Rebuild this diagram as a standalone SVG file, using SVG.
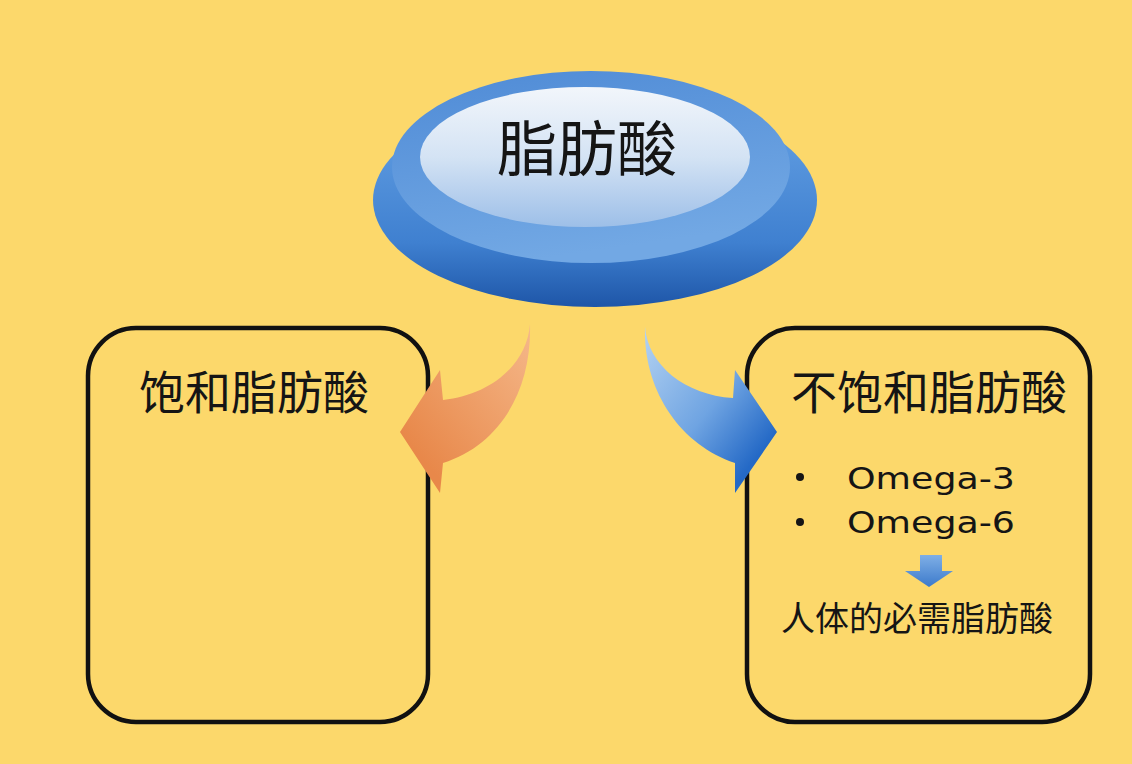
<svg xmlns="http://www.w3.org/2000/svg" width="1132" height="764" viewBox="0 0 1132 764">
<style>
.box{fill:none;stroke:#111;stroke-width:4.5}
.cjk{font-family:"Noto Sans CJK SC","Noto Sans",sans-serif;fill:#151515}
.lat{font-family:"DejaVu Sans","Liberation Sans",sans-serif;fill:#151515}
</style>
<defs>
<linearGradient id="gBase" x1="0" y1="0" x2="0" y2="1">
<stop offset="0" stop-color="#6AA5E6"/><stop offset="0.7" stop-color="#3F80D0"/><stop offset="1" stop-color="#1E56A8"/>
</linearGradient>
<linearGradient id="gDome" x1="0" y1="0" x2="0.3" y2="1">
<stop offset="0" stop-color="#4F8BD6"/><stop offset="1" stop-color="#72A8E4"/>
</linearGradient>
<linearGradient id="gInner" x1="0" y1="0" x2="0" y2="1">
<stop offset="0" stop-color="#F2F6FB"/><stop offset="0.5" stop-color="#D4E3F4"/><stop offset="1" stop-color="#9DBFE8"/>
</linearGradient>
<linearGradient id="gOrange" x1="530" y1="324" x2="400" y2="432" gradientUnits="userSpaceOnUse">
<stop offset="0" stop-color="#F5B88A"/><stop offset="1" stop-color="#E8884A"/>
</linearGradient>
<linearGradient id="gBlue" x1="645" y1="327" x2="777" y2="432" gradientUnits="userSpaceOnUse">
<stop offset="0" stop-color="#B5D3F2"/><stop offset="0.6" stop-color="#6FA4E2"/><stop offset="1" stop-color="#2469C6"/>
</linearGradient>
<linearGradient id="gSmall" x1="0" y1="0" x2="0" y2="1">
<stop offset="0" stop-color="#7FAFE6"/><stop offset="1" stop-color="#3C7ACB"/>
</linearGradient>
</defs>
<rect width="1132" height="764" fill="#FCD86B"/>

<g id="root">
<ellipse cx="595" cy="200" rx="222" ry="107" fill="url(#gBase)"/>
<ellipse cx="591" cy="167" rx="199" ry="96" fill="url(#gDome)"/>
<ellipse cx="585" cy="157" rx="165" ry="70" fill="url(#gInner)"/>
<text class="cjk" x="587" y="171" font-size="60" text-anchor="middle">脂肪酸</text>
</g>

<g id="saturated">
<rect class="box" x="88" y="328" width="340" height="394" rx="48"/>
<text class="cjk" x="254" y="409" font-size="46" text-anchor="middle">饱和脂肪酸</text>
</g>

<g id="unsaturated">
<rect class="box" x="747" y="328" width="343" height="394" rx="48"/>
<text class="cjk" x="929" y="409" font-size="46" text-anchor="middle">不饱和脂肪酸</text>
<circle cx="800" cy="477" r="4" fill="#151515"/>
<circle cx="800" cy="522" r="4" fill="#151515"/>
<text class="lat" x="847" y="489" font-size="31" textLength="168" lengthAdjust="spacingAndGlyphs">Omega-3</text>
<text class="lat" x="847" y="533" font-size="31" textLength="168" lengthAdjust="spacingAndGlyphs">Omega-6</text>
<path d="M920,555 L942,555 L942,571 L953,571 L929,587 L905,571 L920,571 Z" fill="url(#gSmall)"/>
<text class="cjk" x="917" y="631" font-size="34" text-anchor="middle">人体的必需脂肪酸</text>
</g>

<g id="connectors">
<path d="M530,324 C527,365 490,395 443,400 L440,370 L400,432 L440,493 L443,463 C500,445 532,390 530,324 Z" fill="url(#gOrange)"/>
<path d="M645,327 C648,365 685,395 733,398 L735,370 L777,432 L735,493 L735,463 C680,445 643,390 645,327 Z" fill="url(#gBlue)"/>
</g>
</svg>
